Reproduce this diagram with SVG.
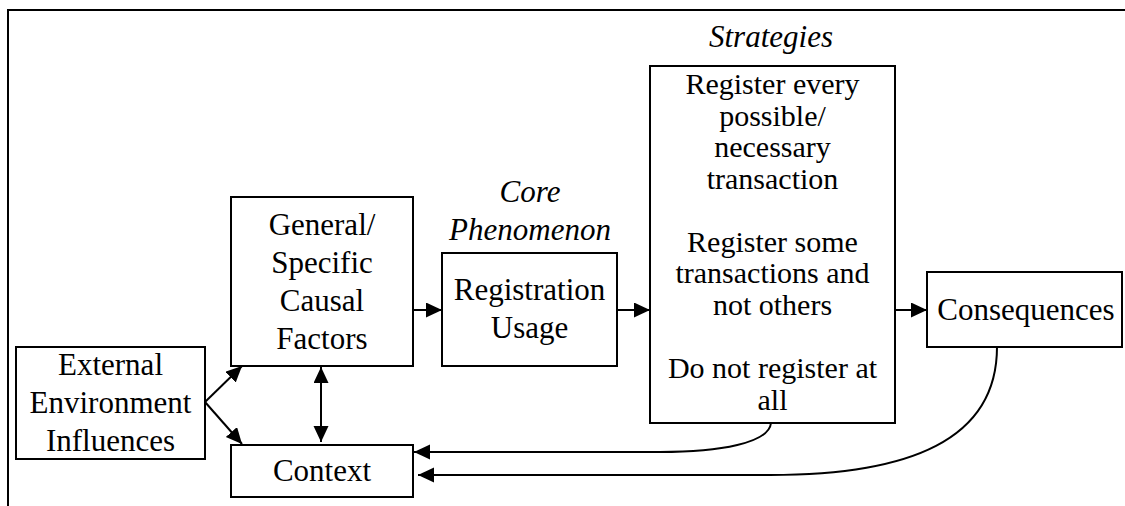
<svg xmlns="http://www.w3.org/2000/svg" width="1125" height="506" viewBox="0 0 1125 506" font-family="'Liberation Serif', 'DejaVu Serif', serif">
<style>
  .box { fill: #fff; stroke: #000; stroke-width: 2; }
  text { font-family: 'Liberation Serif', 'DejaVu Serif', serif; font-size: 31px; fill: #000; text-anchor: middle; }
  .s { font-size: 30px; }
  .i { font-style: italic; }
  .c { fill: none; stroke: #000; stroke-width: 2; }
</style>
<defs>
  <marker id="ah" markerUnits="userSpaceOnUse" markerWidth="17" markerHeight="16" refX="16" refY="7.5" orient="auto-start-reverse">
    <path d="M0,0 L16,7.5 L0,15 z" fill="#000"/>
  </marker>
</defs>
<rect width="1125" height="506" fill="#fff"/>
<g id="frame">
  <path d="M8,506 L8,10 L1125,10" fill="none" stroke="#000" stroke-width="2"/>
</g>
<g id="connectors">
  <line class="c" x1="205" y1="402" x2="242" y2="366" marker-end="url(#ah)"/>
  <line class="c" x1="205" y1="402" x2="242" y2="444" marker-end="url(#ah)"/>
  <line class="c" x1="321" y1="367" x2="321" y2="442" marker-start="url(#ah)" marker-end="url(#ah)"/>
  <line class="c" x1="413" y1="310" x2="442" y2="310" marker-end="url(#ah)"/>
  <line class="c" x1="617" y1="310" x2="650" y2="310" marker-end="url(#ah)"/>
  <line class="c" x1="895" y1="310" x2="927" y2="310" marker-end="url(#ah)"/>
  <path class="c" d="M771,423 C769,443 720,452 660,452 L414,452" marker-end="url(#ah)"/>
  <path class="c" d="M997,347 C997,440 910,475 770,475 L418,475" marker-end="url(#ah)"/>
</g>
<g id="external">
  <rect class="box" x="16" y="347" width="189" height="112"/>
  <text font-family="Liberation Serif" x="110.5" y="375">External</text>
  <text font-family="Liberation Serif" x="110.5" y="413">Environment</text>
  <text font-family="Liberation Serif" x="110.5" y="451">Influences</text>
</g>
<g id="causal">
  <rect class="box" x="231" y="197" width="182" height="169"/>
  <text x="322" y="235">General/</text>
  <text x="322" y="273">Specific</text>
  <text x="322" y="311">Causal</text>
  <text x="322" y="349">Factors</text>
</g>
<g id="context">
  <rect class="box" x="231" y="445" width="182" height="52"/>
  <text x="322" y="481">Context</text>
</g>
<g id="core">
  <text class="i" x="530" y="202">Core</text>
  <text class="i" x="530" y="240">Phenomenon</text>
  <rect class="box" x="442" y="253" width="175" height="113"/>
  <text x="529.5" y="300">Registration</text>
  <text x="529.5" y="338">Usage</text>
</g>
<g id="strategies">
  <text class="i" x="771" y="47">Strategies</text>
  <rect class="box" x="650" y="66" width="245" height="357"/>
  <text class="s" x="772.5" y="94">Register every</text>
  <text class="s" x="772.5" y="126">possible/</text>
  <text class="s" x="772.5" y="157">necessary</text>
  <text class="s" x="772.5" y="189">transaction</text>
  <text class="s" x="772.5" y="252">Register some</text>
  <text class="s" x="772.5" y="283">transactions and</text>
  <text class="s" x="772.5" y="315">not others</text>
  <text class="s" x="772.5" y="378">Do not register at</text>
  <text class="s" x="772.5" y="410">all</text>
</g>
<g id="consequences">
  <rect class="box" x="927" y="272" width="195" height="75"/>
  <text x="1026" y="320">Consequences</text>
</g>
</svg>
